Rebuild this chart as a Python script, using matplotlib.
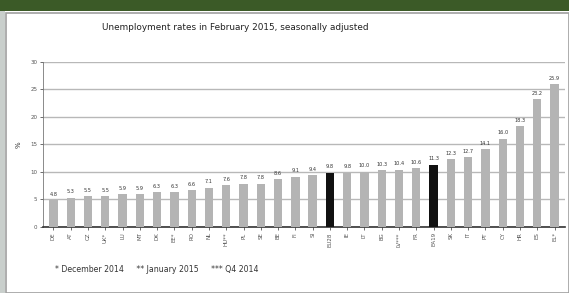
import numpy as np
import matplotlib
matplotlib.use("Agg")
import matplotlib.pyplot as plt
from matplotlib.patches import Rectangle

# donnees
pays = ["DE", "AT", "CZ", "UK*", "LU", "MT", "DK", "EE*", "RO", "NL",
        "HU**", "PL", "SE", "BE", "FI", "SI", "EU28", "IE", "LT", "BG",
        "LV***", "FR", "EA19", "SK", "IT", "PT", "CY", "HR", "ES", "EL*"]
taux = [4.8, 5.3, 5.5, 5.5, 5.9, 5.9, 6.3, 6.3, 6.6, 7.1,
        7.6, 7.8, 7.8, 8.6, 9.1, 9.4, 9.8, 9.8, 10.0, 10.3,
        10.4, 10.6, 11.3, 12.3, 12.7, 14.1, 16.0, 18.3, 23.2, 25.9]
agregats = ["EU28", "EA19"]
yticks = [0, 5, 10, 15, 20, 25, 30]

titre = "Unemployment rates in February 2015, seasonally adjusted"
note = "* December 2014     ** January 2015     *** Q4 2014"

W, H = 569, 293
fig = plt.figure(figsize=(W / 100, H / 100), dpi=100)
fig.patch.set_facecolor("white")

# bandeau vert en haut et bord gris a gauche
fig.add_artist(Rectangle((0, 1 - 11 / H), 1, 11 / H, transform=fig.transFigure,
                         facecolor="#3b5a27", edgecolor="none"))
fig.add_artist(Rectangle((0, 0), 5 / W, 1 - 11 / H, transform=fig.transFigure,
                         facecolor="#c9cfcc", edgecolor="none"))
# cadre du graphique
fig.add_artist(Rectangle((6 / W, 0), 1 - 6 / W, 1 - 13 / H, transform=fig.transFigure,
                         facecolor="none", edgecolor="#a0a0a0", linewidth=1.2))

ax = fig.add_axes([43 / W, 1 - 226.7 / H, (565 - 43) / W, (226.7 - 61.7) / H])
x = np.arange(len(pays))
couleurs = ["#111111" if p in agregats else "#b4b4b4" for p in pays]
ax.bar(x, taux, width=0.48, color=couleurs, zorder=3)

for xi, v in zip(x, taux):
    ax.text(xi, v + 0.6, f"{v:.1f}", ha="center", va="bottom", fontsize=3.6,
            color="#333333")

ax.set_ylim(0, 30)
ax.set_xlim(-0.6, len(pays) - 0.4)
ax.set_yticks(yticks)
ax.set_yticklabels([str(t) for t in yticks], fontsize=4, color="#333333")
ax.set_xticks(x)
ax.set_xticklabels(pays, rotation=90, fontsize=4, color="#333333")
ax.tick_params(axis="both", length=2, width=0.6, pad=2, colors="#555555")
ax.grid(axis="y", color="#b8b8b8", linewidth=1.0, zorder=0)
for s in ["top", "right"]:
    ax.spines[s].set_visible(False)
ax.spines["left"].set_color("#777777")
ax.spines["left"].set_linewidth(0.6)
ax.spines["bottom"].set_color("#333333")
ax.spines["bottom"].set_linewidth(1.2)
ax.set_ylabel("%", fontsize=5, rotation=90, labelpad=6, color="#333333")

fig.text(235 / W, 1 - 28 / H, titre, ha="center", va="center", fontsize=6.4,
         color="#222222")
fig.text(55 / W, 1 - 270 / H, note, ha="left", va="center", fontsize=5.6,
         color="#333333")

fig.savefig("out.png", dpi=100)
